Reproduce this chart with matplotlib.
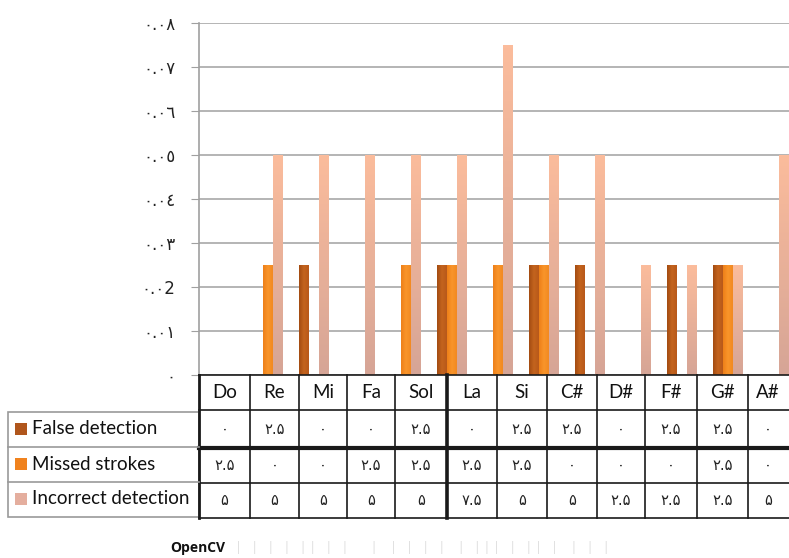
import matplotlib
matplotlib.use("Agg")
import matplotlib.pyplot as plt
import numpy as np
from matplotlib.patches import Rectangle
from matplotlib.colors import LinearSegmentedColormap

# data (table values, in percent)
notes = ["Do", "Re", "Mi", "Fa", "Sol", "La", "Si", "C#", "D#", "F#", "G#", "A#"]
false_detection = [0, 2.5, 0, 0, 2.5, 0, 2.5, 2.5, 0, 2.5, 2.5, 0]
missed_strokes = [2.5, 0, 0, 2.5, 2.5, 2.5, 2.5, 0, 0, 0, 2.5, 0]
incorrect_detection = [5, 5, 5, 5, 5, 7.5, 5, 5, 2.5, 2.5, 2.5, 5]
series_names = ["False detection", "Missed strokes", "Incorrect detection"]
ytick_vals = [0, 0.01, 0.02, 0.03, 0.04, 0.05, 0.06, 0.07, 0.08]
ytick_labels = ["٠", "٠.٠١", "٠.٠2", "٠.٠٣", "٠.٠٤", "٠.٠٥", "٠.٠٦", "٠.٠٧", "٠.٠٨"]

colors = ["#B4581A", "#F38A22", "#EBB09C"]
W, H = 789, 558

def fa_num(v):
    # persian digits like the table in the picture
    digits = "۰۱۲۳۴۵۶۷۸۹"
    s = ("%g" % v)
    return "".join(digits[int(c)] if c.isdigit() else c for c in s)

plt.rcParams["font.family"] = ["Lato", "DejaVu Sans"]
fig = plt.figure(figsize=(W / 100, H / 100), dpi=100)

# bar plot area
ax = fig.add_axes([199 / W, (H - 375) / H, (W - 199) / W, (375 - 23) / H])
unit = 46.0
bw = 10 / unit
xmax = (W - 199) / unit
series = [false_detection, missed_strokes, incorrect_detection]
light_cmap = LinearSegmentedColormap.from_list("lt", ["#D6A596", "#FBBC9C"])
dark_cmap = LinearSegmentedColormap.from_list("dk", ["#A44C12", "#C4641E", "#B8591A"])
orange_cmap = LinearSegmentedColormap.from_list("or", ["#EE8019", "#F9952A", "#F28A22"])
for k, vals in enumerate(series):
    xs = [i + 1.5 + (k - 1) * bw for i in range(len(notes))]
    hs = [v / 100 for v in vals]
    for x, h in zip(xs, hs):
        if h <= 0:
            continue
        if k == 2:
            grad = np.linspace(0, 1, 100).reshape(-1, 1)
            ax.imshow(grad, extent=[x - bw / 2, x + bw / 2, 0, h], origin="lower",
                      aspect="auto", cmap=light_cmap, zorder=3)
        else:
            grad = np.linspace(0, 1, 20).reshape(1, -1)
            ax.imshow(grad, extent=[x - bw / 2, x + bw / 2, 0, h],
                      aspect="auto", cmap=[dark_cmap, orange_cmap][k], zorder=3)

ax.set_xlim(0, xmax)
ax.set_ylim(0, 0.08)
ax.set_yticks(ytick_vals)
ax.set_yticklabels(ytick_labels, fontsize=12, color="#222222",
                   family=["DejaVu Sans"])
ax.set_xticks([])
ax.tick_params(axis="y", length=6, color="#A0A0A0", pad=11)
ax.grid(axis="y", color="#A8A8A8", lw=1.2, zorder=0)
for s in ["top", "right", "bottom"]:
    ax.spines[s].set_visible(False)
ax.spines["left"].set_color("#A0A0A0")
ax.spines["left"].set_linewidth(1.2)

# data table drawn in pixel coords
tab = fig.add_axes([0, 0, 1, 1], zorder=5)
tab.set_xlim(0, W)
tab.set_ylim(H, 0)
tab.axis("off")

col_edges = [199, 250, 299, 347, 395, 447, 497, 547, 597, 645, 697, 748, 800]
row_edges = [375, 410, 448, 483, 518]

for x in col_edges[:-1]:
    lw = 2.6 if x == 447 else (2.0 if x == 199 else 1.2)
    tab.plot([x, x], [row_edges[0], row_edges[-1]], color="#1A1A1A", lw=lw)
for y in row_edges:
    lw = 3 if y == 448 else 1.2
    tab.plot([199, W], [y, y], color="#1A1A1A", lw=lw)

# legend column
tab.add_patch(Rectangle((8, 412), 191, 105, fill=False, ec="#9A9A9A", lw=1.2))
for y in (447, 482):
    tab.plot([8, 199], [y, y], color="#9A9A9A", lw=1.2)

for i, n in enumerate(notes):
    cx = (col_edges[i] + col_edges[i + 1]) / 2
    if i == len(notes) - 1:
        cx = 768
    tab.text(cx, 393, n, ha="center", va="center", fontsize=13.5, color="#111111")
    for k, vals in enumerate(series):
        cy = (row_edges[k + 1] + row_edges[k + 2]) / 2
        tab.text(cx, cy, fa_num(vals[i]), ha="center", va="center", fontsize=10.5,
                 color="#222222", family=["DejaVu Sans"])

legend_sw = ["#B0561C", "#F0821E", "#E4AE9E"]
for k, name in enumerate(series_names):
    cy = [429, 464, 499][k]
    tab.add_patch(Rectangle((15, cy - 6), 12, 12, color=legend_sw[k], lw=0))
    tab.text(32, cy, name, ha="left", va="center", fontsize=13.5, color="#111111")

tab.text(170, 548, "OpenCV", ha="left", va="center", fontsize=10,
         fontweight="bold", color="#111111", family=["Open Sans", "DejaVu Sans"])
tab.text(237, 548, "|    |    |    |    |  |    |    |        |     |    |    |    |     |    |  |  |    |    |  |    |     |    |    |",
         ha="left", va="center", fontsize=9, color="#DDDDDD")

fig.savefig("out.png", dpi=100)
